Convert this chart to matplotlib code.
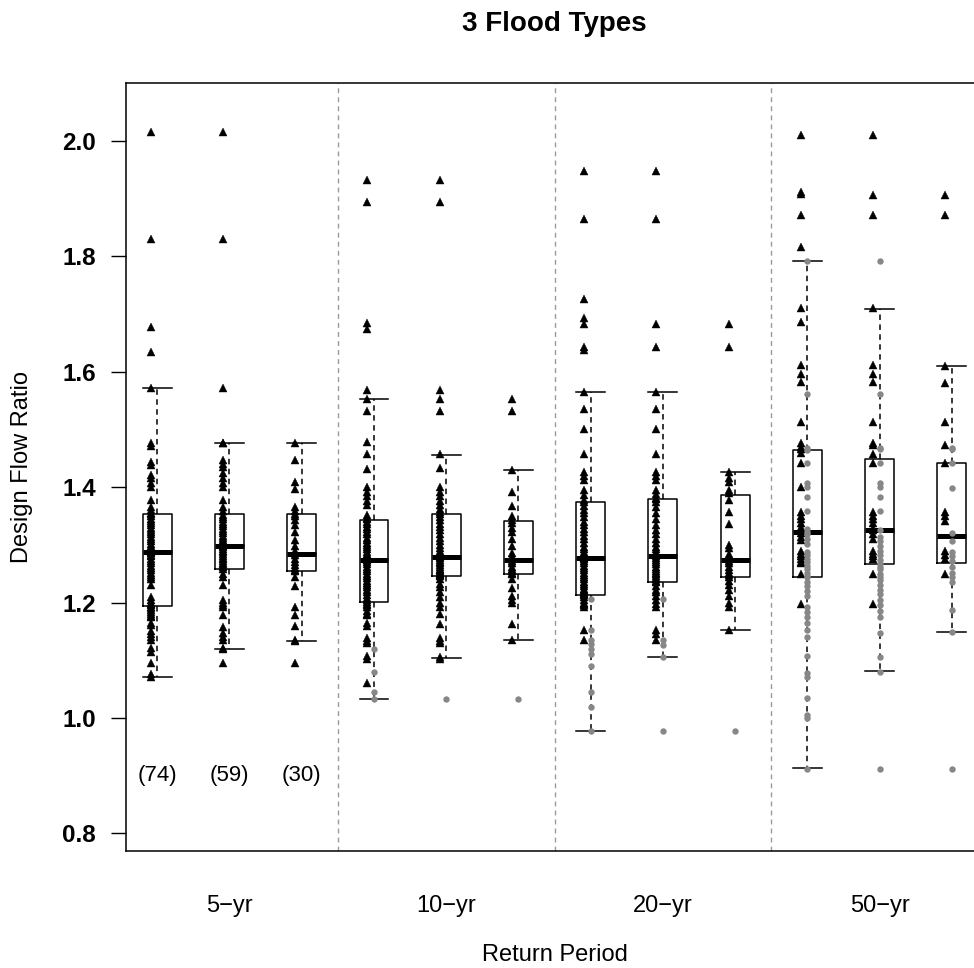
import matplotlib
matplotlib.use("Agg")
import matplotlib.pyplot as plt

plt.rcParams['font.family'] = ['Liberation Sans', 'DejaVu Sans']

# ---------------- data ----------------
group_labels = ["5\u2212yr", "10\u2212yr", "20\u2212yr", "50\u2212yr"]
count_labels = ["(74)", "(59)", "(30)"]
title = "3 Flood Types"
xlabel = "Return Period"
ylabel = "Design Flow Ratio"
yticks = [0.8, 1.0, 1.2, 1.4, 1.6, 1.8, 2.0]

# box statistics per box (12 boxes: 4 return periods x 3 subsets)
whis_lo = [1.071, 1.119, 1.133, 1.032, 1.1035, 1.135, 0.977, 1.105, 1.152, 0.913, 1.081, 1.149]
q1      = [1.194, 1.258, 1.254, 1.2006, 1.246, 1.249, 1.213, 1.235, 1.244, 1.244, 1.2665, 1.268]
median  = [1.287, 1.298, 1.284, 1.2735, 1.279, 1.2735, 1.277, 1.280, 1.2735, 1.322, 1.3255, 1.315]
q3      = [1.353, 1.353, 1.353, 1.343, 1.353, 1.341, 1.374, 1.379, 1.386, 1.464, 1.449, 1.442]
whis_hi = [1.572, 1.476, 1.476, 1.553, 1.4555, 1.4295, 1.565, 1.565, 1.426, 1.792, 1.709, 1.610]

# points: triangles (black) and dots (gray)
tri_5_a = [2.015, 1.830, 1.677, 1.634, 1.572, 1.477, 1.472, 1.444, 1.438, 1.421, 1.416, 1.407,
           1.400, 1.378, 1.366, 1.360, 1.356, 1.354, 1.350, 1.345, 1.342, 1.338, 1.334, 1.330,
           1.326, 1.322, 1.318, 1.314, 1.310, 1.306, 1.302, 1.298, 1.295, 1.292, 1.290, 1.288,
           1.287, 1.286, 1.283, 1.280, 1.276, 1.272, 1.268, 1.264, 1.260, 1.256, 1.252, 1.248,
           1.244, 1.240, 1.230, 1.210, 1.205, 1.200, 1.197, 1.195, 1.193, 1.190, 1.187, 1.184,
           1.180, 1.177, 1.175, 1.165, 1.161, 1.150, 1.145, 1.140, 1.135, 1.121, 1.115, 1.095,
           1.077, 1.071]
dot_5_a = []
tri_5_b = [2.015, 1.830, 1.572, 1.477, 1.476, 1.447, 1.440, 1.435, 1.424, 1.416, 1.408, 1.400,
           1.378, 1.366, 1.358, 1.352, 1.348, 1.344, 1.340, 1.336, 1.332, 1.328, 1.324, 1.320,
           1.316, 1.312, 1.308, 1.304, 1.300, 1.298, 1.296, 1.293, 1.290, 1.287, 1.284, 1.281,
           1.278, 1.275, 1.272, 1.269, 1.266, 1.263, 1.261, 1.259, 1.250, 1.244, 1.230, 1.204,
           1.200, 1.196, 1.192, 1.178, 1.158, 1.147, 1.140, 1.135, 1.121, 1.119, 1.095]
dot_5_b = []
tri_5_c = [1.477, 1.447, 1.409, 1.397, 1.366, 1.358, 1.354, 1.350, 1.343, 1.334, 1.322, 1.308,
           1.298, 1.290, 1.286, 1.282, 1.276, 1.270, 1.265, 1.260, 1.256, 1.254, 1.244, 1.228,
           1.192, 1.178, 1.160, 1.135, 1.133, 1.095]
dot_5_c = []

tri_10_a = [1.932, 1.895, 1.685, 1.674, 1.568, 1.552, 1.532, 1.479, 1.458, 1.432, 1.400, 1.392,
            1.384, 1.376, 1.369, 1.352, 1.346, 1.344, 1.340, 1.336, 1.331, 1.327, 1.323, 1.318,
            1.312, 1.308, 1.304, 1.300, 1.296, 1.292, 1.288, 1.285, 1.282, 1.279, 1.277, 1.275,
            1.274, 1.273, 1.270, 1.266, 1.262, 1.258, 1.254, 1.250, 1.246, 1.242, 1.238, 1.234,
            1.230, 1.227, 1.222, 1.218, 1.213, 1.208, 1.204, 1.201, 1.198, 1.196, 1.192, 1.186,
            1.180, 1.178, 1.165, 1.160, 1.138, 1.134, 1.130, 1.108, 1.103, 1.060]
dot_10_a = [1.119, 1.080, 1.045, 1.032]
tri_10_b = [1.932, 1.895, 1.568, 1.552, 1.532, 1.458, 1.433, 1.400, 1.392, 1.384, 1.376, 1.369,
            1.362, 1.357, 1.354, 1.349, 1.343, 1.337, 1.331, 1.325, 1.318, 1.312, 1.306, 1.300,
            1.295, 1.290, 1.286, 1.283, 1.281, 1.279, 1.277, 1.274, 1.271, 1.268, 1.265, 1.262,
            1.259, 1.256, 1.254, 1.252, 1.250, 1.248, 1.247, 1.246, 1.240, 1.232, 1.227, 1.218,
            1.210, 1.200, 1.192, 1.181, 1.162, 1.138, 1.134, 1.130, 1.105, 1.103]
dot_10_b = [1.032]
tri_10_c = [1.552, 1.532, 1.430, 1.392, 1.367, 1.350, 1.343, 1.338, 1.330, 1.322, 1.310, 1.298,
            1.286, 1.280, 1.275, 1.272, 1.268, 1.262, 1.258, 1.254, 1.251, 1.249, 1.240, 1.225,
            1.212, 1.205, 1.199, 1.162, 1.135]
dot_10_c = [1.032]

tri_20_a = [1.948, 1.865, 1.727, 1.694, 1.683, 1.643, 1.638, 1.565, 1.535, 1.501, 1.457, 1.427,
            1.420, 1.412, 1.395, 1.386, 1.378, 1.375, 1.368, 1.360, 1.355, 1.348, 1.340, 1.334,
            1.328, 1.322, 1.316, 1.310, 1.304, 1.297, 1.292, 1.288, 1.285, 1.282, 1.280, 1.278,
            1.277, 1.276, 1.272, 1.268, 1.264, 1.260, 1.256, 1.252, 1.248, 1.244, 1.240, 1.236,
            1.232, 1.228, 1.224, 1.221, 1.218, 1.216, 1.214, 1.213, 1.210, 1.204, 1.200, 1.198,
            1.195, 1.192, 1.152, 1.135]
dot_20_a = [1.206, 1.152, 1.135, 1.128, 1.120, 1.110, 1.090, 1.045, 1.019, 0.977]
tri_20_b = [1.948, 1.865, 1.683, 1.643, 1.565, 1.535, 1.501, 1.457, 1.427, 1.420, 1.412, 1.395,
            1.388, 1.382, 1.380, 1.375, 1.365, 1.355, 1.345, 1.334, 1.326, 1.318, 1.310, 1.303,
            1.297, 1.292, 1.288, 1.284, 1.282, 1.280, 1.277, 1.274, 1.270, 1.266, 1.262, 1.258,
            1.255, 1.252, 1.249, 1.246, 1.243, 1.240, 1.237, 1.235, 1.228, 1.222, 1.218, 1.212,
            1.204, 1.198, 1.192, 1.152, 1.145, 1.135]
dot_20_b = [1.206, 1.135, 1.127, 1.105, 0.977]
tri_20_c = [1.683, 1.643, 1.426, 1.416, 1.409, 1.395, 1.390, 1.378, 1.357, 1.336, 1.300, 1.294,
            1.285, 1.280, 1.275, 1.272, 1.268, 1.262, 1.257, 1.252, 1.247, 1.244, 1.238, 1.230,
            1.222, 1.212, 1.200, 1.192, 1.152]
dot_20_c = [0.977]

tri_50_a = [2.010, 1.912, 1.908, 1.872, 1.817, 1.711, 1.686, 1.612, 1.596, 1.582, 1.513, 1.477,
            1.470, 1.466, 1.459, 1.442, 1.400, 1.357, 1.350, 1.344, 1.338, 1.331, 1.326, 1.320,
            1.314, 1.308, 1.290, 1.285, 1.280, 1.275, 1.270, 1.268, 1.250, 1.198]
dot_50_a = [1.792, 1.562, 1.468, 1.464, 1.442, 1.407, 1.400, 1.383, 1.359, 1.327, 1.322, 1.318,
            1.310, 1.302, 1.288, 1.282, 1.276, 1.270, 1.264, 1.258, 1.252, 1.246, 1.244, 1.236,
            1.228, 1.220, 1.212, 1.192, 1.184, 1.175, 1.164, 1.152, 1.140, 1.107, 1.078, 1.071,
            1.035, 1.005, 1.000, 0.912]
tri_50_b = [2.010, 1.906, 1.872, 1.710, 1.612, 1.596, 1.582, 1.513, 1.476, 1.473, 1.457, 1.442,
            1.357, 1.350, 1.344, 1.338, 1.330, 1.325, 1.318, 1.310, 1.290, 1.285, 1.280, 1.275,
            1.250, 1.198]
dot_50_b = [1.792, 1.562, 1.468, 1.466, 1.442, 1.407, 1.400, 1.383, 1.359, 1.326, 1.314, 1.306,
            1.298, 1.290, 1.282, 1.274, 1.266, 1.262, 1.258, 1.250, 1.244, 1.239, 1.230, 1.222,
            1.214, 1.205, 1.196, 1.186, 1.175, 1.147, 1.106, 1.080, 0.912]
tri_50_c = [1.906, 1.872, 1.610, 1.580, 1.513, 1.473, 1.442, 1.357, 1.350, 1.342, 1.290, 1.282,
            1.275, 1.250]
dot_50_c = [1.468, 1.466, 1.442, 1.398, 1.321, 1.306, 1.288, 1.280, 1.272, 1.262, 1.252, 1.244,
            1.236, 1.187, 1.149, 0.912]

tri_sets = [tri_5_a, tri_5_b, tri_5_c, tri_10_a, tri_10_b, tri_10_c,
            tri_20_a, tri_20_b, tri_20_c, tri_50_a, tri_50_b, tri_50_c]
dot_sets = [dot_5_a, dot_5_b, dot_5_c, dot_10_a, dot_10_b, dot_10_c,
            dot_20_a, dot_20_b, dot_20_c, dot_50_a, dot_50_b, dot_50_c]

# ---------------- figure ----------------
W, H = 974, 968
fig = plt.figure(figsize=(W / 100, H / 100), dpi=100)
ax = fig.add_axes([126 / W, 1 - 851 / H, (983 - 126) / W, (851 - 83) / H])

positions = list(range(1, 13))
stats = []
for i in range(12):
    stats.append(dict(whislo=whis_lo[i], q1=q1[i], med=median[i], q3=q3[i],
                      whishi=whis_hi[i], fliers=[]))

ax.bxp(stats, positions=positions, widths=0.4, capwidths=0.4, showfliers=False,
       boxprops=dict(color='black', linewidth=1.1),
       whiskerprops=dict(color='black', linewidth=1.1, linestyle=(0, (3.6, 2.9))),
       capprops=dict(color='black', linewidth=1.1),
       medianprops=dict(color='black', linewidth=3.6, solid_capstyle='butt'),
       manage_ticks=False, zorder=2)

for i, p in enumerate(positions):
    tv = tri_sets[i]
    dv = dot_sets[i]
    if tv:
        ax.plot([p - 0.09] * len(tv), tv, linestyle='none', marker='^',
                markersize=5.8, color='black', markeredgewidth=0.3, zorder=3)
    if dv:
        ax.plot([p] * len(dv), dv, linestyle='none', marker='o',
                markersize=4.6, color='#878787', markeredgewidth=0, zorder=3)

for xs in [3.5, 6.5, 9.5]:
    ax.axvline(xs, color='#9a9a9a', linewidth=1.0, linestyle=(0, (3.5, 3.0)), zorder=1)

for j, lab in enumerate(count_labels):
    ax.text(positions[j], 0.9, lab, ha='center', va='center', fontsize=16)

ax.set_xlim(0.568, 12.43)
ax.set_ylim(0.7694, 2.1006)

ax.set_yticks(yticks)
ax.set_yticklabels([f"{v:.1f}" for v in yticks], fontweight='bold', fontsize=17.5)
ax.tick_params(axis='y', length=11, width=1.0, pad=10.5)
ax.set_xticks([2, 5, 8, 11])
ax.set_xticklabels(group_labels, fontsize=17)
ax.tick_params(axis='x', length=0, pad=32)

for s in ax.spines.values():
    s.set_linewidth(1.1)

fig.text(554.5 / W, 1 - 24 / H, title, ha='center', va='center', fontsize=20, fontweight='bold')
fig.text(555 / W, 1 - 955 / H, xlabel, ha='center', va='center', fontsize=17)
fig.text(22 / W, 1 - 467 / H, ylabel, ha='center', va='center', rotation=90, fontsize=17)

fig.savefig('out.png', dpi=100)
